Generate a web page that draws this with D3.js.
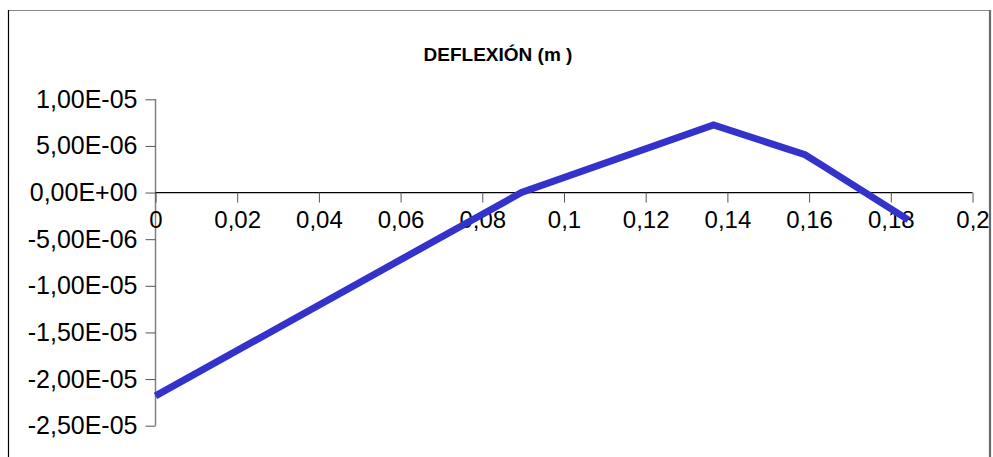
<!DOCTYPE html>
<html>
<head>
<meta charset="utf-8">
<script src="https://cdn.jsdelivr.net/npm/d3@7/dist/d3.min.js"></script>
<style>
  html, body { margin: 0; padding: 0; background: #fff; }
  svg { display: block; font-family: "Liberation Sans", Arial, sans-serif; }
</style>
</head>
<body>
<svg id="chart" width="993" height="457"></svg>
<script>
// Beam deflection along its length (position in m, deflection in m)
const positions   = [0, 0.0896, 0.1366, 0.159, 0.163, 0.1843];
const deflections = [-2.18e-5, 0, 7.26e-6, 4.05e-6, 2.97e-6, -2.93e-6];

const xTickValues = [0, 0.02, 0.04, 0.06, 0.08, 0.1, 0.12, 0.14, 0.16, 0.18, 0.2];
const yTickValues = [1e-5, 5e-6, 0, -5e-6, -1e-5, -1.5e-5, -2e-5, -2.5e-5];
const chartTitle  = "DEFLEXIÓN (m )";

const svg = d3.select("#chart");

// Chart frame
svg.append("line").attr("x1", 8).attr("x2", 991).attr("y1", 10.5).attr("y2", 10.5)
  .attr("stroke", "#8a8a8a").attr("stroke-width", 1.2);
svg.append("line").attr("x1", 8.5).attr("x2", 8.5).attr("y1", 10).attr("y2", 457)
  .attr("stroke", "#000").attr("stroke-width", 1.2);
svg.append("line").attr("x1", 990).attr("x2", 990).attr("y1", 10).attr("y2", 457)
  .attr("stroke", "#6a6a6a").attr("stroke-width", 2.2);

const x = d3.scaleLinear().domain([0, 0.2]).range([155.5, 972.5]);
const y = d3.scaleLinear().domain([-2.5e-5, 1e-5]).range([425.7, 99.3]);

// Number formats with a decimal comma
const fmtSci = v => {
  const s = (v === 0 ? 0 : v).toExponential(2);
  const [m, e] = s.split("e");
  const sign = e[0] === "-" ? "-" : "+";
  const digits = e.replace(/^[+-]/, "").padStart(2, "0");
  return m.replace(".", ",") + "E" + sign + digits;
};
const fmtDec = v => String(+v.toFixed(2)).replace(".", ",");

// Title
svg.append("text")
  .attr("x", 498).attr("y", 61)
  .attr("text-anchor", "middle")
  .attr("font-weight", "bold")
  .attr("font-size", 19)
  .attr("fill", "#000")
  .text(chartTitle);

// Y axis
const yAxis = svg.append("g").attr("transform", `translate(${x(0)},0)`)
  .call(d3.axisLeft(y).tickValues(yTickValues).tickFormat(fmtSci).tickSize(10).tickPadding(8));
yAxis.select(".domain").attr("stroke", "#808080").attr("stroke-width", 1.5)
  .attr("d", `M0,${y(1e-5)}V${y(-2.5e-5)}`);
yAxis.selectAll(".tick line").attr("stroke", "#555");
yAxis.selectAll(".tick text").attr("font-size", 25).attr("fill", "#000")
  .attr("font-family", "Liberation Sans, Arial, sans-serif");

// X axis at zero deflection
const xAxis = svg.append("g").attr("transform", `translate(0,${y(0)})`)
  .call(d3.axisBottom(x).tickValues(xTickValues).tickFormat(fmtDec).tickSize(10).tickPadding(8));
xAxis.select(".domain").attr("stroke", "#000").attr("stroke-width", 1.2)
  .attr("d", `M${x(0)},0H${x(0.2)}`);
xAxis.selectAll(".tick line").attr("stroke", "#555");
xAxis.selectAll(".tick text").attr("font-size", 24).attr("fill", "#000")
  .attr("font-family", "Liberation Sans, Arial, sans-serif");

// Deflection curve
const pts = positions.map((p, i) => [p, deflections[i]]);
svg.append("path")
  .datum(pts)
  .attr("fill", "none")
  .attr("stroke", "#3333cc")
  .attr("stroke-width", 7)
  .attr("stroke-linejoin", "miter")
  .attr("d", d3.line().x(d => x(d[0])).y(d => y(d[1])));
</script>
</body>
</html>
